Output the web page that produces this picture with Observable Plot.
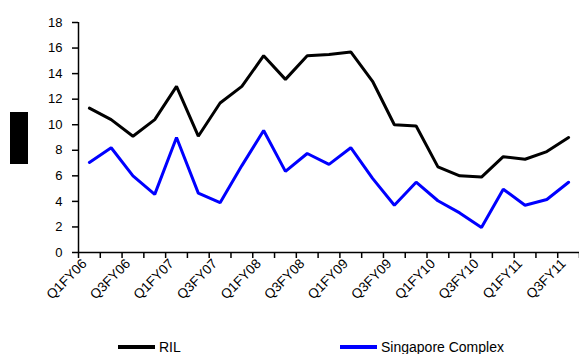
<!DOCTYPE html>
<html>
<head>
<meta charset="utf-8">
<script src="https://cdn.jsdelivr.net/npm/d3@7"></script>
<script src="https://cdn.jsdelivr.net/npm/@observablehq/plot@0.6"></script>
<style>
  html, body { margin: 0; padding: 0; background: #fff; }
  body { width: 579px; height: 354px; position: relative; overflow: hidden; font-family: "Liberation Sans", Arial, sans-serif; }
  #redact { position: absolute; left: 10px; top: 112px; width: 18px; height: 52px; background: #000; }
  .legend { position: absolute; top: 339px; font-size: 14px; line-height: 16px; color: #000; display: flex; align-items: center; }
  .legend .sw { width: 37px; height: 3.5px; margin-right: 4px; }
</style>
</head>
<body>
<div id="chart"></div>
<div id="redact"></div>
<div class="legend" style="left:118px"><span class="sw" style="background:#000"></span>RIL</div>
<div class="legend" style="left:340px"><span class="sw" style="background:#0000ff"></span>Singapore Complex</div>
<script>
const quarters = ["Q1FY06","Q2FY06","Q3FY06","Q4FY06","Q1FY07","Q2FY07","Q3FY07","Q4FY07",
  "Q1FY08","Q2FY08","Q3FY08","Q4FY08","Q1FY09","Q2FY09","Q3FY09","Q4FY09",
  "Q1FY10","Q2FY10","Q3FY10","Q4FY10","Q1FY11","Q2FY11","Q3FY11"];
const ril = [11.3, 10.4, 9.1, 10.4, 13.0, 9.1, 11.7, 13.0, 15.4, 13.55, 15.4, 15.5, 15.7, 13.4, 10.0, 9.9, 6.7, 6.0, 5.9, 7.5, 7.3, 7.9, 9.0];
const singapore = [7.05, 8.2, 6.0, 4.55, 9.0, 4.65, 3.9, 6.8, 9.55, 6.35, 7.75, 6.9, 8.2, 5.8, 3.7, 5.5, 4.05, 3.1, 1.95, 4.95, 3.7, 4.15, 5.5];
const yTicks = [0, 2, 4, 6, 8, 10, 12, 14, 16, 18];
const seriesNames = ["RIL", "Singapore Complex"];
const seriesColors = ["#000000", "#0000ff"];

const data = [];
quarters.forEach((q, i) => {
  data.push({i: i + 0.5, q, series: seriesNames[0], v: ril[i]});
  data.push({i: i + 0.5, q, series: seriesNames[1], v: singapore[i]});
});
const boundaries = d3.range(0, quarters.length + 1);
const labelPos = quarters.map((q, i) => i + 0.5).filter((d, i) => i % 2 === 0);

const chart = Plot.plot({
  width: 579,
  height: 310,
  marginLeft: 78,
  marginRight: 0,
  marginTop: 22,
  marginBottom: 58,
  style: {fontFamily: "Liberation Sans, Arial, sans-serif", fontSize: "13px", color: "#000", background: "#fff"},
  x: {type: "linear", domain: [0, quarters.length]},
  y: {domain: [0, 18]},
  color: {domain: seriesNames, range: seriesColors},
  marks: [
    Plot.axisY({ticks: yTicks, tickSize: 6, tickPadding: 10, tickFormat: d => d, label: null, stroke: "#000", strokeWidth: 1.5}),
    Plot.axisX({ticks: boundaries, tickSize: 6, tickFormat: () => "", label: null, stroke: "#000", strokeWidth: 1.5}),
    Plot.axisX({ticks: labelPos, tickSize: 0, tickPadding: 9, tickRotate: -45, dx: -5, tickFormat: d => quarters[Math.round(d - 0.5)], label: null, fontSize: 13.5}),
    Plot.ruleY([0], {stroke: "#000", strokeWidth: 1.5}),
    Plot.ruleX([0], {y1: 0, y2: 18, stroke: "#000", strokeWidth: 1.5}),
    Plot.line(data, {x: "i", y: "v", z: "series", stroke: "series", strokeWidth: 3, strokeLinejoin: "miter"})
  ]
});
document.getElementById("chart").appendChild(chart);
</script>
</body>
</html>
